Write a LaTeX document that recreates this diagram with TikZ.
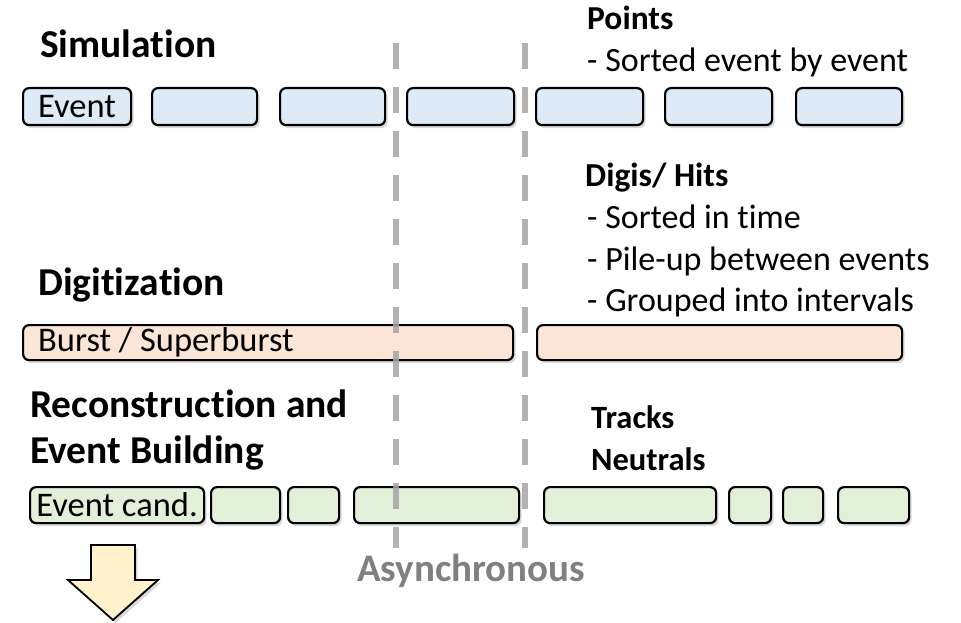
\documentclass[tikz,border=0pt]{standalone}
\usepackage{fontspec}
\setmainfont[Ligatures=NoCommon]{Carlito}
\usetikzlibrary{shadows}

\definecolor{simblue}{HTML}{DEEBF7}
\definecolor{digired}{HTML}{FBE5D6}
\definecolor{recogreen}{HTML}{E2F0D9}
\definecolor{arrowyellow}{HTML}{FFF2CC}
\definecolor{sepgray}{HTML}{A8A4A4}
\definecolor{asyngray}{HTML}{808080}

\begin{document}
\begin{tikzpicture}[x=1pt,y=-1pt,
	blk/.style={draw=black,line width=2.2pt,rounded corners=6pt,inner sep=0pt,anchor=north west,
		font=\fontsize{34.5}{40}\selectfont,
		drop shadow={shadow xshift=2.5pt,shadow yshift=-3pt,opacity=0.3}},
	simbox/.style={blk,fill=simblue,minimum height=37pt},
	digibox/.style={blk,fill=digired,minimum height=35pt},
	recobox/.style={blk,fill=recogreen,minimum height=36pt},
	head/.style={anchor=base west,inner sep=0pt,font=\fontsize{39.5}{46}\selectfont\bfseries},
	subhead/.style={anchor=base west,inner sep=0pt,font=\fontsize{33.5}{40}\selectfont\bfseries},
	note/.style={anchor=base west,inner sep=0pt,font=\fontsize{34}{40}\selectfont},
	sepline/.style={draw=sepgray,line width=6pt,dash pattern=on 26pt off 18pt,opacity=0.85}]
	\useasboundingbox (0,0) rectangle (961,623);

	% name, style, x left, x right, y top, text
	\newcommand*{\rowbox}[6]{%
	\node[#2,minimum width={(#4-#3)*1pt}] (#1) at (#3,#5) {#6};
	}

	% simulation
	\node[head] (simtitle) at (40,58) {Simulation};
	\rowbox{s1}{simbox}{22}{130}{87}{Event}
	\rowbox{s2}{simbox}{151}{256}{87}{}
	\rowbox{s3}{simbox}{279}{384}{87}{}
	\rowbox{s4}{simbox}{406}{513}{87}{}
	\rowbox{s5}{simbox}{535}{642}{87}{}
	\rowbox{s6}{simbox}{664}{771}{87}{}
	\rowbox{s7}{simbox}{795}{901}{87}{}

	\node[subhead] (points) at (587,30) {Points};
	\node[note] (pointsa) at (587,72) {- Sorted event by event};

	% digitization
	\node[head] (digititle) at (38,295) {Digitization};
	\rowbox{d1}{digibox}{22}{512}{324}{}
	\rowbox{d2}{digibox}{536}{901}{324}{}
	\node[anchor=west,inner sep=0pt,font=\fontsize{34.5}{40}\selectfont] (d1txt) at ([xshift=16pt]d1.west) {Burst / Superburst};

	\node[subhead] (digis) at (585,186) {Digis/ Hits};
	\node[note] (digisa) at (587,228) {- Sorted in time};
	\node[note] (digisb) at (587,270) {- Pile-up between events};
	\node[note] (digisc) at (587,311) {- Grouped into intervals};

	% reconstruction
	\node[head] (recotitle) at (30,417) {Reconstruction and};
	\node[head] (recotitleb) at (30,463) {Event Building};
	\rowbox{r1}{recobox}{29}{203}{486}{Event cand.}
	\rowbox{r2}{recobox}{210}{279}{486}{}
	\rowbox{r3}{recobox}{287}{338}{486}{}
	\rowbox{r4}{recobox}{353}{518}{486}{}
	\rowbox{r5}{recobox}{543}{715}{486}{}
	\rowbox{r6}{recobox}{728}{770}{486}{}
	\rowbox{r7}{recobox}{782}{822}{486}{}
	\rowbox{r8}{recobox}{837}{908}{486}{}

	\node[subhead,font=\fontsize{32.5}{38}\selectfont\bfseries] (tracks) at (591,428) {Tracks};
	\node[subhead,font=\fontsize{32.5}{38}\selectfont\bfseries] (neutrals) at (591,470) {Neutrals};

	% asynchronous borders
	\coordinate (asa) at (396,43);
	\coordinate (asb) at (396,548);
	\coordinate (bsa) at (525,43);
	\coordinate (bsb) at (525,548);
	\draw[sepline] (asa) -- (asb);
	\draw[sepline] (bsa) -- (bsb);
	\node[anchor=base,inner sep=0pt,text=asyngray,font=\fontsize{39}{46}\selectfont\bfseries] (async) at (471,581) {Asynchronous};

	% output arrow
	\draw[line width=1.8pt,fill=arrowyellow,line join=miter,
		drop shadow={shadow xshift=2.5pt,shadow yshift=-3pt,opacity=0.3}]
		(91,545) -- (135,545) -- (135,580) -- (158,580) -- (113,620) -- (68,580) -- (91,580) -- cycle;
\end{tikzpicture}
\end{document}
